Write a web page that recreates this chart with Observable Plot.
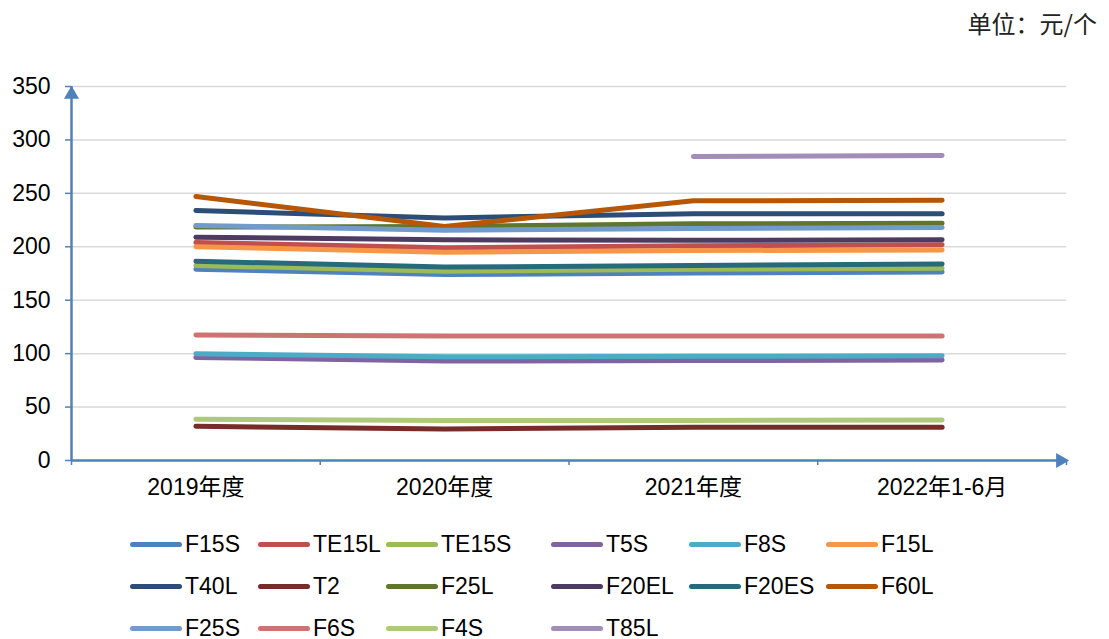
<!DOCTYPE html>
<html>
<head>
<meta charset="utf-8">
<script src="https://cdn.jsdelivr.net/npm/d3@7"></script>
<script src="https://cdn.jsdelivr.net/npm/@observablehq/plot@0.6"></script>
<style>
  body { margin: 0; background: #fff; font-family: "Liberation Sans", Arial, "Noto Sans CJK SC", sans-serif; }
  #wrap { position: relative; width: 1109px; height: 639px; }
  #unit { height: 50px; line-height: 46px; text-align: right; padding-right: 12px; font-size: 24px; font-family: "Noto Sans CJK SC", sans-serif; color: #222; }
  #legend { position: absolute; left: 130px; top: 523px; display: grid; grid-template-columns: 128px 128px 165px 138px 137px auto; grid-auto-rows: 42px; font-size: 23px; color: #000; }
  .item { display: flex; align-items: center; white-space: nowrap; }
  .sw { width: 52px; height: 5px; border-radius: 3px; margin-right: 3px; }
</style>
</head>
<body>
<div id="wrap">
  <div id="unit">单位：元/个</div>
  <div id="chart"></div>
  <div id="legend"></div>
</div>
<script>
const categories = ["2019年度", "2020年度", "2021年度", "2022年1-6月"];
const yTicks = [0, 50, 100, 150, 200, 250, 300, 350];

const seriesNames = ["F15S", "TE15L", "TE15S", "T5S", "F8S", "F15L", "T40L", "T2", "F25L", "F20EL", "F20ES", "F60L", "F25S", "F6S", "F4S", "T85L"];
const seriesColors = ["#4F81BD", "#C0504D", "#9BBB59", "#8064A2", "#4BACC6", "#F79646", "#2C4D75", "#772C2A", "#5F7530", "#4D3B62", "#276A7C", "#B65708", "#729ACA", "#CD7371", "#AFC97A", "#A18DB8"];

const F15S  = [179, 174, 175.5, 176.5];
const TE15L = [204, 199, 201, 202];
const TE15S = [182.5, 177, 179, 180];
const T5S   = [96.5, 93, 93.5, 94];
const F8S   = [100, 97, 97.5, 98];
const F15L  = [200, 195, 196.5, 197];
const T40L  = [234, 227, 231, 231];
const T2    = [32, 29.5, 31, 31];
const F25L  = [218.5, 219, 221.5, 222];
const F20EL = [209, 206.5, 206, 206.5];
const F20ES = [186.5, 181, 182.5, 184];
const F60L  = [247, 219, 243, 243.5];
const F25S  = [220, 215.5, 217, 218];
const F6S   = [117.5, 116.5, 116.5, 116.5];
const F4S   = [38.5, 37.5, 37.5, 38];
const T85L  = [null, null, 284.5, 285.5];

const seriesValues = [F15S, TE15L, TE15S, T5S, F8S, F15L, T40L, T2, F25L, F20EL, F20ES, F60L, F25S, F6S, F4S, T85L];

const rows = [];
seriesNames.forEach((name, si) => {
  seriesValues[si].forEach((v, ci) => {
    if (v != null) rows.push({series: name, cat: categories[ci], xi: ci + 0.5, value: v});
  });
});

const axisColor = "#4F81BD";
const font = '"Liberation Sans", Arial, "Noto Sans CJK SC", sans-serif';

const plot = Plot.plot({
  width: 1109,
  height: 465,
  marginLeft: 71,
  marginRight: 43,
  marginTop: 36,
  marginBottom: 55,
  style: {fontSize: "23px", fontFamily: font, overflow: "visible", background: "transparent", color: "#000"},
  x: {type: "linear", domain: [0, categories.length]},
  y: {domain: [0, 350]},
  color: {domain: seriesNames, range: seriesColors},
  marks: [
    Plot.gridY(yTicks, {stroke: "#d9d9d9", strokeOpacity: 1, strokeWidth: 1.5}),
    Plot.axisY(yTicks, {tickSize: 6, tickPadding: 15, stroke: axisColor, strokeWidth: 1.5, fill: "#000", label: null}),
    Plot.axisX(d3.range(categories.length + 1), {tickSize: 5, stroke: axisColor, strokeWidth: 1.5, tickFormat: () => "", label: null}),
    Plot.axisX(categories.map((c, i) => i + 0.5), {tickSize: 0, tickPadding: 18, tickFormat: (d) => categories[Math.floor(d)], fill: "#000", label: null}),
    Plot.ruleX([0], {stroke: axisColor, strokeWidth: 2.5}),
    Plot.ruleY([0], {stroke: axisColor, strokeWidth: 2.5}),
    Plot.dot([0], {x: 0, y: 350, symbol: "triangle", r: 5.6, fill: axisColor, stroke: null, dy: 8}),
    Plot.dot([0], {x: categories.length, y: 0, symbol: "triangle", r: 5.6, fill: axisColor, stroke: null, rotate: 90, dx: -6}),
    Plot.line(rows, {x: "xi", y: "value", z: "series", stroke: "series", strokeWidth: 5, strokeLinecap: "round", strokeLinejoin: "round", curve: "linear"})
  ]
});
document.getElementById("chart").appendChild(plot);

const legend = document.getElementById("legend");
seriesNames.forEach((name, i) => {
  const item = document.createElement("div");
  item.className = "item";
  const sw = document.createElement("span");
  sw.className = "sw";
  sw.style.background = seriesColors[i];
  const t = document.createElement("span");
  t.textContent = name;
  item.appendChild(sw);
  item.appendChild(t);
  legend.appendChild(item);
});
</script>
</body>
</html>
